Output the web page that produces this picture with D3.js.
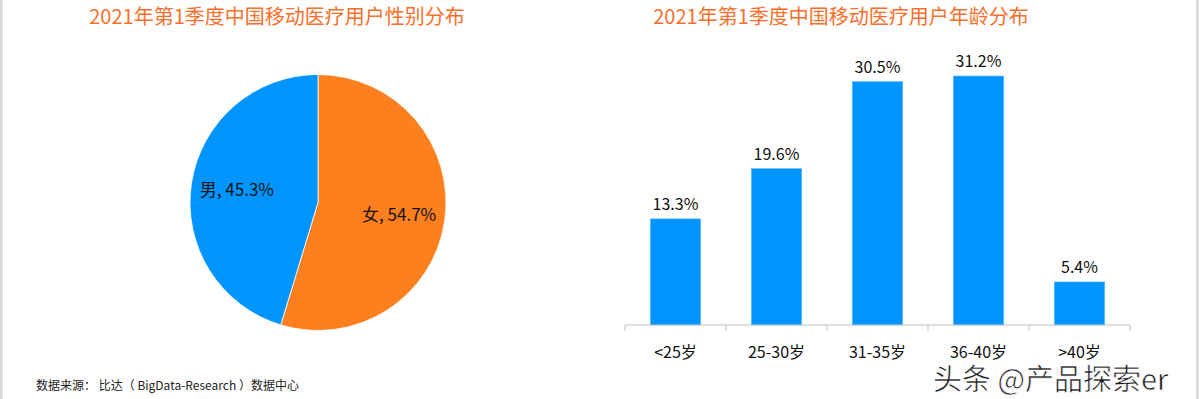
<!DOCTYPE html>
<html>
<head>
<meta charset="utf-8">
<script src="https://cdn.jsdelivr.net/npm/d3@7"></script>
<style>
  body { margin: 0; background: #fff; }
  svg { display: block; font-family: "Noto Sans CJK SC", "Noto Sans", sans-serif; }
</style>
</head>
<body>
<svg id="canvas"></svg>
<script>
const genderLabels = ["女", "男"];
const genderValues = [54.7, 45.3];
const ageCategories = ["<25岁", "25-30岁", "31-35岁", "36-40岁", ">40岁"];
const ageValues = [13.3, 19.6, 30.5, 31.2, 5.4];

const width = 1200;
const height = 399;
const blue = "#0095fe";
const orange = "#fe7f1e";
const titleColor = "#f8702c";

const svg = d3.select("#canvas")
    .attr("width", width)
    .attr("height", height);

// side borders
svg.append("rect").attr("x", 0).attr("y", 0).attr("width", 2.5).attr("height", height).attr("fill", "#d9d9d9");
svg.append("rect").attr("x", 1196).attr("y", 0).attr("width", 2.7).attr("height", height).attr("fill", "#d9d9d9");

// titles
svg.append("text")
    .attr("x", 277).attr("y", 24)
    .attr("text-anchor", "middle")
    .attr("fill", titleColor)
    .style("font-size", "20px")
    .text("2021年第1季度中国移动医疗用户性别分布");

svg.append("text")
    .attr("x", 841).attr("y", 24)
    .attr("text-anchor", "middle")
    .attr("fill", titleColor)
    .style("font-size", "20px")
    .text("2021年第1季度中国移动医疗用户年龄分布");

// pie
const radius = 128;
const pieG = svg.append("g").attr("transform", "translate(318,202.5)");
const pie = d3.pie().sort(null).value(d => d)(genderValues);
const arc = d3.arc().innerRadius(0).outerRadius(radius);
const labelArc = d3.arc().innerRadius(82).outerRadius(82);
const colors = [orange, blue];

pieG.selectAll("path")
    .data(pie)
    .enter()
    .append("path")
    .attr("d", arc)
    .attr("fill", (d, i) => colors[i])
    .attr("stroke", "#fff")
    .attr("stroke-width", 0.8);

pieG.selectAll("text.lbl")
    .data(pie)
    .enter()
    .append("text")
    .attr("class", "lbl")
    .attr("transform", d => `translate(${labelArc.centroid(d)})`)
    .attr("text-anchor", "middle")
    .attr("dy", "0.35em")
    .style("font-size", "17px")
    .attr("fill", "#111")
    .text((d, i) => `${genderLabels[i]}, ${genderValues[i].toFixed(1)}%`);

// bars
const x = d3.scaleBand()
    .domain(ageCategories)
    .range([625, 1130])
    .paddingInner(0.5)
    .paddingOuter(0.25);

const y = d3.scaleLinear()
    .domain([0, 31.2])
    .range([325, 76]);

svg.selectAll("rect.bar")
    .data(ageValues)
    .enter()
    .append("rect")
    .attr("class", "bar")
    .attr("x", (d, i) => x(ageCategories[i]))
    .attr("y", d => y(d))
    .attr("width", x.bandwidth())
    .attr("height", d => y(0) - y(d))
    .attr("fill", blue)
    .attr("stroke", "#6cc0ff")
    .attr("stroke-width", 0.6);

svg.selectAll("text.val")
    .data(ageValues)
    .enter()
    .append("text")
    .attr("class", "val")
    .attr("x", (d, i) => x(ageCategories[i]) + x.bandwidth() / 2)
    .attr("y", d => y(d) - 9)
    .attr("text-anchor", "middle")
    .style("font-size", "16px")
    .attr("fill", "#111")
    .text(d => d.toFixed(1) + "%");

// x axis
const axis = svg.append("g").attr("transform", `translate(0,${y(0)})`);
axis.append("line")
    .attr("x1", x.range()[0]).attr("x2", x.range()[1])
    .attr("stroke", "#bfbfbf").attr("stroke-width", 1);

const gap = (x.step() - x.bandwidth()) / 2;
const bounds = ageCategories.map(c => x(c) - gap).concat([x.range()[1]]);
axis.selectAll("line.tick")
    .data(bounds)
    .enter()
    .append("line")
    .attr("class", "tick")
    .attr("x1", d => d).attr("x2", d => d)
    .attr("y1", 0).attr("y2", 6)
    .attr("stroke", "#bfbfbf");

axis.selectAll("text")
    .data(ageCategories)
    .enter()
    .append("text")
    .attr("x", d => x(d) + x.bandwidth() / 2)
    .attr("y", 33)
    .attr("text-anchor", "middle")
    .style("font-size", "16px")
    .attr("fill", "#111")
    .text(d => d);

// source note
svg.append("text")
    .attr("x", 36).attr("y", 390)
    .style("font-size", "12px")
    .attr("fill", "#222")
    .attr("xml:space", "preserve")
    .style("white-space", "pre")
    .text("数据来源： 比达（ BigData-Research ）数据中心");

// watermark
svg.append("text")
    .attr("x", 933).attr("y", 390)
    .style("font-size", "29px")
    .attr("fill", "#1a1a1a")
    .attr("stroke", "#fff")
    .attr("stroke-width", 0.6)
    .text("头条 @产品探索er");
</script>
</body>
</html>
